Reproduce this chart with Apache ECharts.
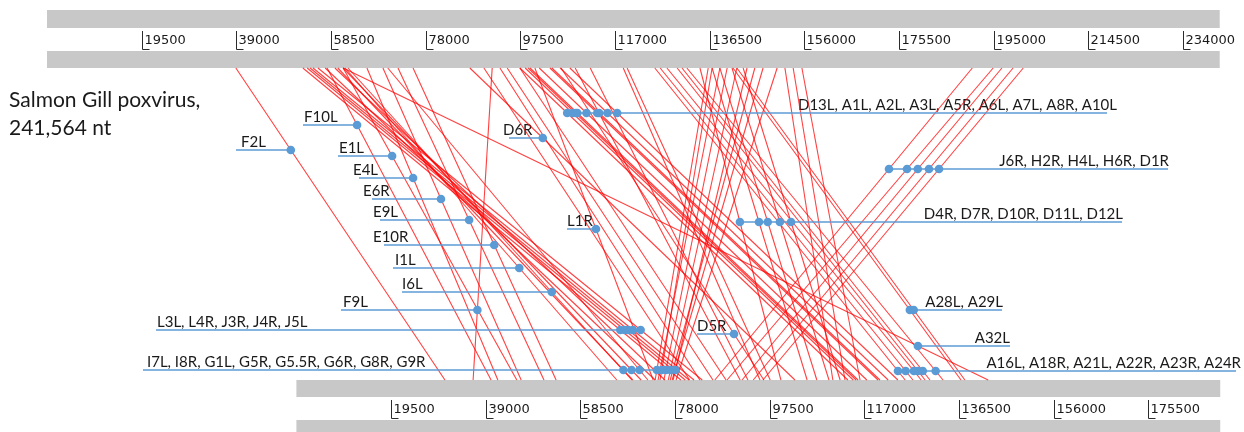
<!DOCTYPE html>
<html>
<head>
<meta charset="utf-8">
<script src="https://cdn.jsdelivr.net/npm/echarts@6/dist/echarts.min.js"></script>
<style>
  html, body { margin: 0; padding: 0; background: #ffffff; }
  #chart { width: 1244px; height: 432px; }
</style>
</head>
<body>
<div id="chart"></div>
<script>
// Genome lengths (nt)
const GENOME_TOP_LENGTH = 241564;     // Salmon Gill poxvirus
const GENOME_BOTTOM_LENGTH = 190300;  // reference orthopoxvirus genome

// Ruler tick labels (nt)
const topTicks = [19500, 39000, 58500, 78000, 97500, 117000, 136500, 156000, 175500, 195000, 214500, 234000];
const bottomTicks = [19500, 39000, 58500, 78000, 97500, 117000, 136500, 156000, 175500];

// Matched genes: position on the upper genome, position on the lower genome, gene name ('' = unnamed)
const matchTop = [
  38900, 52700, 53600, 54200, 54800, 55800, 57300, 59300, 57700, 61000,
  65900, 69200, 72300, 75400, 61400, 62000, 59900, 61000, 70200, 91700,
  61000, 87100, 100500, 105900, 97400, 98500, 99100, 99500, 101400, 103600,
  104000, 105700, 107700, 190600, 194900, 196700, 199000, 201100, 134500, 137000,
  138600, 141100, 143400, 141300, 142100, 125200, 126300, 127700, 129800, 130800,
  131800, 136200, 137000, 140100, 142100, 144200, 145800, 147500, 150400, 138600,
  118700, 119500, 152000, 153700, 155500, 108800, 111900, 93300, 94800, 90000,
  97400
];
const matchBottom = [
  30600, 79200, 80100, 80900, 81900, 83600, 73900, 75900, 40100, 45400,
  41500, 46300, 51000, 53500, 66000, 69100, 69300, 71000, 72400, 36400,
  142500, 102700, 73500, 96300, 113600, 114700, 115300, 115700, 117500, 119800,
  120200, 121900, 123900, 86200, 88700, 91800, 94100, 96100, 99800, 105200,
  107200, 109700, 112000, 136900, 137700, 125400, 127000, 128700, 129500, 130500,
  133200, 73900, 74900, 75700, 76600, 77600, 77000, 77400, 78200, 74500,
  95500, 97600, 110500, 113000, 116100, 91400, 93000, 83100, 85800, 81000,
  88500
];
const matchGene = [
  'F2L', 'L3L', 'L4R', 'J3R', 'J4R', 'J5L', '', '', 'F10L', 'E1L',
  'E4L', 'E6R', 'E9L', 'E10R', 'I1L', 'I6L', 'I7L', 'I8R', 'G1L', 'F9L',
  'A32L', 'D6R', 'L1R', 'D5R', 'D13L', 'A1L', 'A2L', 'A3L', 'A5R', 'A6L',
  'A7L', 'A8R', 'A10L', 'J6R', 'H2R', 'H4L', 'H6R', 'D1R', 'D4R', 'D7R',
  'D10R', 'D11L', 'D12L', 'A28L', 'A29L', 'A16L', 'A18R', 'A21L', 'A22R', 'A23R',
  'A24R', 'G5R', 'G5.5R', 'G6R', 'G8R', 'G9R', '', '', '', '',
  '', '', '', '', '', '', '', '', '', '',
  ''
];

// Gene groups sharing one callout
const labelGroups = [
  ['F10L'], ['F2L'], ['E1L'], ['E4L'], ['E6R'], ['E9L'], ['E10R'], ['I1L'], ['I6L'], ['F9L'],
  ['L3L', 'L4R', 'J3R', 'J4R', 'J5L'],
  ['I7L', 'I8R', 'G1L', 'G5R', 'G5.5R', 'G6R', 'G8R', 'G9R'],
  ['D6R'], ['L1R'], ['D5R'],
  ['D13L', 'A1L', 'A2L', 'A3L', 'A5R', 'A6L', 'A7L', 'A8R', 'A10L'],
  ['J6R', 'H2R', 'H4L', 'H6R', 'D1R'],
  ['D4R', 'D7R', 'D10R', 'D11L', 'D12L'],
  ['A28L', 'A29L'], ['A32L'],
  ['A16L', 'A18R', 'A21L', 'A22R', 'A23R', 'A24R']
];

// ---- layout ----
const PX_PER_NT = 0.0048547;
const TOP_START_PX = 47;
const BOTTOM_START_PX = 296.4;
const BOTTOM_SHIFT = (BOTTOM_START_PX - TOP_START_PX) / PX_PER_NT;
const LINK_TOP_Y = 68;
const LINK_BOTTOM_Y = 380;

// callout row height, side of the label, end of the leader line (px), text anchor (px)
const calloutLayout = [
  { y: 125, side: 'left', edge: 303, text: 304 },
  { y: 150, side: 'left', edge: 236, text: 241 },
  { y: 156, side: 'left', edge: 338, text: 339 },
  { y: 178, side: 'left', edge: 359, text: 353 },
  { y: 199, side: 'left', edge: 372, text: 363 },
  { y: 220, side: 'left', edge: 380, text: 373 },
  { y: 245, side: 'left', edge: 384, text: 373 },
  { y: 268, side: 'left', edge: 393, text: 395 },
  { y: 292, side: 'left', edge: 402, text: 402 },
  { y: 310, side: 'left', edge: 341, text: 343 },
  { y: 330, side: 'left', edge: 156, text: 157 },
  { y: 370, side: 'left', edge: 143, text: 147 },
  { y: 138, side: 'left', edge: 509, text: 503 },
  { y: 229, side: 'left', edge: 567, text: 567 },
  { y: 334, side: 'left', edge: 697, text: 697 },
  { y: 113, side: 'right', edge: 1107, text: 1117 },
  { y: 169, side: 'right', edge: 1168, text: 1169 },
  { y: 222, side: 'right', edge: 1122, text: 1123 },
  { y: 310, side: 'right', edge: 1002, text: 1003 },
  { y: 346, side: 'right', edge: 1010, text: 1010 },
  { y: 371, side: 'right', edge: 1236, text: 1241 }
];

const RED = 'rgba(255, 0, 0, 0.75)';
const BLUE = '#5b9bd5';
const GREY = '#c8c8c8';
const LABEL_FONT = 'Lato, "Open Sans", sans-serif';

function toAxisBottom(b) { return b + BOTTOM_SHIFT; }
function geneX(i, y) {
  const t = (y - LINK_TOP_Y) / (LINK_BOTTOM_Y - LINK_TOP_Y);
  const a = matchTop[i];
  const b = toAxisBottom(matchBottom[i]);
  return a + (b - a) * t;
}

const chart = echarts.init(document.getElementById('chart'), null, { renderer: 'canvas' });

const ribbons = [
  { length: GENOME_TOP_LENGTH, shift: 0, bars: [[10, 28], [51, 68]], ticks: topTicks, tick: [31, 50], label: 41 },
  { length: GENOME_BOTTOM_LENGTH, shift: BOTTOM_SHIFT, bars: [[380, 397], [420, 440]], ticks: bottomTicks, tick: [400, 419], label: 410 }
];

const option = {
  animation: false,
  backgroundColor: '#ffffff',
  title: {
    text: 'Salmon Gill poxvirus,\n241,564 nt',
    left: 4, top: 81,
    textStyle: { fontFamily: LABEL_FONT, fontSize: 21, fontWeight: 'normal', color: '#1a1a1a', lineHeight: 28 }
  },
  grid: { left: TOP_START_PX, top: 0, bottom: 0, width: GENOME_TOP_LENGTH * PX_PER_NT },
  xAxis: { type: 'value', min: 0, max: GENOME_TOP_LENGTH, show: false },
  yAxis: { type: 'value', min: 0, max: 432, inverse: true, show: false },
  series: [
    {
      // genome ribbons with rulers
      type: 'custom', z: 1, silent: true,
      data: ribbons.map((r, i) => [i, r.length]),
      renderItem(params, api) {
        const r = ribbons[params.dataIndex];
        const x0 = api.coord([r.shift, 0])[0];
        const x1 = api.coord([r.shift + api.value(1), 0])[0];
        const children = r.bars.map(([y0, y1]) => ({
          type: 'rect',
          shape: { x: x0, y: api.coord([0, y0])[1], width: x1 - x0, height: api.coord([0, y1])[1] - api.coord([0, y0])[1] },
          style: { fill: GREY }
        }));
        r.ticks.forEach(v => {
          const x = Math.round(api.coord([r.shift + v, 0])[0]) + 0.5;
          const ya = api.coord([0, r.tick[0]])[1];
          const yb = api.coord([0, r.tick[1]])[1] - 0.5;
          children.push({ type: 'polyline', shape: { points: [[x, ya], [x, yb], [x + 7, yb]] }, style: { stroke: '#2b2b2b', lineWidth: 1, fill: null } });
          children.push({
            type: 'text',
            style: { text: String(v), x: x + 2, y: api.coord([0, r.label])[1], align: 'left', verticalAlign: 'middle', font: '13px "DejaVu Sans", sans-serif', fill: '#1a1a1a' }
          });
        });
        return { type: 'group', children };
      }
    },
    {
      // callout texts
      type: 'custom', z: 2, silent: true,
      data: labelGroups.map((g, i) => [i]),
      renderItem(params, api) {
        const g = labelGroups[params.dataIndex];
        const L = calloutLayout[params.dataIndex];
        return {
          type: 'text',
          style: {
            text: g.join(', '), x: L.text, y: api.coord([0, L.y])[1] - 7.5,
            align: L.side === 'left' ? 'left' : 'right', verticalAlign: 'middle',
            font: '15px ' + LABEL_FONT, fill: '#1a1a1a'
          }
        };
      }
    },
    {
      // homology links between the two genomes
      type: 'custom', z: 3, silent: true,
      data: matchTop.map((t, i) => [t, matchBottom[i]]),
      renderItem(params, api) {
        const p0 = api.coord([api.value(0), LINK_TOP_Y]);
        const p1 = api.coord([toAxisBottom(api.value(1)), LINK_BOTTOM_Y]);
        return { type: 'line', shape: { x1: p0[0], y1: p0[1], x2: p1[0], y2: p1[1] }, style: { stroke: RED, lineWidth: 1.1 } };
      }
    },
    {
      // callout leader lines and gene markers
      type: 'custom', z: 4, silent: true,
      data: labelGroups.map((g, i) => [i]),
      renderItem(params, api) {
        const g = labelGroups[params.dataIndex];
        const L = calloutLayout[params.dataIndex];
        const y = api.coord([0, L.y])[1];
        const xs = g.map(name => api.coord([geneX(matchGene.indexOf(name), L.y), L.y])[0]);
        const lo = L.side === 'left' ? L.edge : Math.min(...xs);
        const hi = L.side === 'left' ? Math.max(...xs) : L.edge;
        const children = [{ type: 'line', shape: { x1: lo, y1: y, x2: hi, y2: y }, style: { stroke: BLUE, lineWidth: 1.4 } }];
        xs.forEach(x => children.push({ type: 'circle', shape: { cx: x, cy: y, r: 4.3 }, style: { fill: BLUE } }));
        return { type: 'group', children };
      }
    }
  ]
};
chart.setOption(option);
</script>
</body>
</html>
